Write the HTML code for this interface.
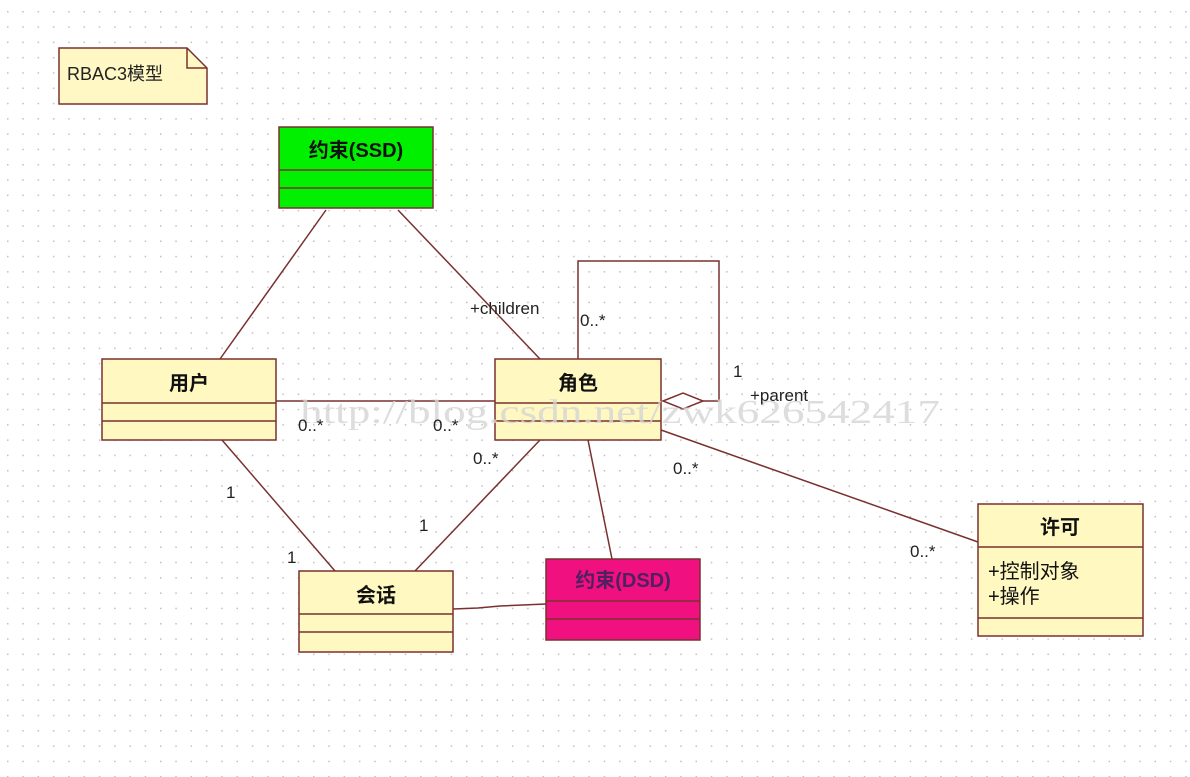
<!DOCTYPE html>
<html><head><meta charset="utf-8"><style>
html,body{margin:0;padding:0;background:#fff;}
svg{display:block;}
text{font-family:"Liberation Sans","Noto Sans CJK SC",sans-serif;}
text.wm{font-family:"Liberation Serif",serif;}
</style></head><body>
<svg width="1190" height="777" viewBox="0 0 1190 777" xmlns="http://www.w3.org/2000/svg">
<defs>
<pattern id="g" x="7" y="11" width="15.3" height="15.3" patternUnits="userSpaceOnUse">
<rect x="0" y="0" width="1.5" height="1.5" fill="#c0c0c0"/>
</pattern>
</defs>
<rect width="1190" height="777" fill="url(#g)"/>
<g stroke="#7a3030" stroke-width="1.5" fill="none">
<line x1="326" y1="210" x2="220" y2="359"/>
<line x1="398" y1="210" x2="540" y2="359"/>
<line x1="276" y1="401" x2="495" y2="401"/>
<line x1="222" y1="440" x2="335" y2="571"/>
<line x1="540" y1="440" x2="415" y2="571"/>
<line x1="588" y1="440" x2="612" y2="559"/>
<polyline points="453,609 478,608 500,606 546,604"/>
<line x1="661" y1="430" x2="978" y2="542"/>
<polyline points="578,359 578,261 719,261 719,401 703,401"/>
<polygon points="663,401 683,393 703,401 683,409" fill="#fff"/>
</g>
<path d="M59,48 H187 L207,68 V104 H59 Z" fill="#fff8c4" stroke="#7a3030" stroke-width="1.5"/>
<path d="M187,48 V68 H207" fill="none" stroke="#7a3030" stroke-width="1.5"/>
<text x="67" y="80" font-size="18" fill="#222">RBAC3模型</text>
<g stroke="#7a3030" stroke-width="1.5">
<rect x="279" y="127" width="154" height="81" fill="#00f000"/>
<line x1="279" y1="170" x2="433" y2="170"/><line x1="279" y1="188" x2="433" y2="188"/>
<rect x="102" y="359" width="174" height="81" fill="#fff8c0"/>
<line x1="102" y1="403" x2="276" y2="403"/><line x1="102" y1="421" x2="276" y2="421"/>
<rect x="495" y="359" width="166" height="81" fill="#fff8c0"/>
<line x1="495" y1="403" x2="661" y2="403"/><line x1="495" y1="421" x2="661" y2="421"/>
<rect x="299" y="571" width="154" height="81" fill="#fff8c0"/>
<line x1="299" y1="614" x2="453" y2="614"/><line x1="299" y1="632" x2="453" y2="632"/>
<rect x="546" y="559" width="154" height="81" fill="#f01080"/>
<line x1="546" y1="601" x2="700" y2="601"/><line x1="546" y1="619" x2="700" y2="619"/>
<rect x="978" y="504" width="165" height="132" fill="#fff8c0"/>
<line x1="978" y1="547" x2="1143" y2="547"/><line x1="978" y1="618" x2="1143" y2="618"/>
</g>
<g font-weight="bold" font-size="20" text-anchor="middle" fill="#111">
<text x="356" y="157">约束(SSD)</text>
<text x="189" y="390">用户</text>
<text x="578" y="390">角色</text>
<text x="376" y="602">会话</text>
<text x="623" y="587" fill="#502060">约束(DSD)</text>
<text x="1060" y="534">许可</text>
</g>
<text x="988" y="578" font-size="20" fill="#111">+控制对象</text>
<text x="988" y="603" font-size="20" fill="#111">+操作</text>
<text class="wm" x="300" y="423" font-size="34" fill="#d4d4d4" fill-opacity="0.8" textLength="640" lengthAdjust="spacingAndGlyphs">http://blog.csdn.net/zwk626542417</text>
<g font-size="17" fill="#222">
<text x="470" y="314">+children</text>
<text x="580" y="326">0..*</text>
<text x="733" y="377">1</text>
<text x="750" y="401">+parent</text>
<text x="298" y="431">0..*</text>
<text x="433" y="431">0..*</text>
<text x="473" y="464">0..*</text>
<text x="226" y="498">1</text>
<text x="287" y="563">1</text>
<text x="419" y="531">1</text>
<text x="673" y="474">0..*</text>
<text x="910" y="557">0..*</text>
</g>
</svg>
</body></html>
